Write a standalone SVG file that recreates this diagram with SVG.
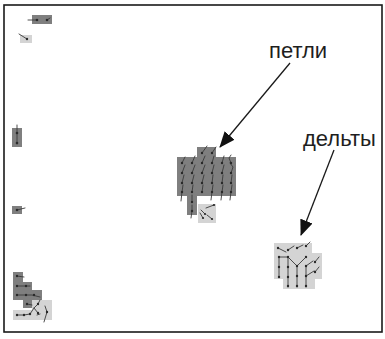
<svg xmlns="http://www.w3.org/2000/svg" width="385" height="339" viewBox="0 0 385 339">
  <defs>
    <style>
      .dk { fill: #7f7f7f; }
      .lt { fill: #d4d4d4; }
      .dot { fill: #2a2a2a; }
      .fl { stroke: #3a3a3a; stroke-width: 0.9; fill: none; stroke-linecap: round; }
      .lbl { font-family: "Liberation Sans", Arial, sans-serif; font-size: 22px; fill: #1e1e1e; }
      .arr { stroke: #1a1a1a; stroke-width: 1.3; fill: none; }
    </style>
    <filter id="soft" x="-20%" y="-20%" width="140%" height="140%">
      <feGaussianBlur stdDeviation="0.6"/>
    </filter>
    <marker id="ah" viewBox="0 0 16 13" refX="15" refY="6.5" markerWidth="16" markerHeight="13" markerUnits="userSpaceOnUse" orient="auto">
      <path d="M0,0 L16,6.5 L0,13 Z" fill="#111"/>
    </marker>
  </defs>

  <rect x="0" y="0" width="385" height="339" fill="#ffffff"/>
  <rect x="4" y="5" width="378" height="327" fill="#ffffff" stroke="#1a1a1a" stroke-width="1.6"/>

  <g id="left-top-dark" filter="url(#soft)">
    <rect class="dk" x="32" y="15" width="20" height="9"/>
    <path class="fl" d="M28,20 L37,20 M47,20 L50,18"/>
    <circle class="dot" cx="37" cy="20" r="1.3"/>
    <circle class="dot" cx="47" cy="20" r="1.3"/>
  </g>

  <g id="left-top-light" filter="url(#soft)">
    <rect class="lt" x="20" y="35" width="12" height="8"/>
    <path class="fl" d="M19,34 L27,39"/>
    <circle class="dot" cx="27" cy="39" r="1.2"/>
  </g>

  <g id="left-mid-dark" filter="url(#soft)">
    <rect class="dk" x="12" y="128" width="10" height="19"/>
    <path class="fl" d="M17,125 L17,144"/>
    <circle class="dot" cx="17" cy="133" r="1.3"/>
    <circle class="dot" cx="17" cy="143" r="1.3"/>
  </g>

  <g id="left-low-dark" filter="url(#soft)">
    <rect class="dk" x="12" y="206" width="10" height="8"/>
    <path class="fl" d="M17,210 L25,208"/>
    <circle class="dot" cx="17" cy="210" r="1.3"/>
  </g>

  <g id="left-bottom" filter="url(#soft)">
    <path class="dk" d="M13,272 H23 V282 H32 V290 H42 V300 H33 V308 H23 V300 H13 Z"/>
    <path class="lt" d="M32,300 H52 V320 H13 V310 H32 Z"/>
    <path class="fl" d="M17,276 L24,277 M17,286 L24,286 L30,286 M17,295 L24,295 L32,295 L40,297 M27,304 L32,305 M17,315 L24,315 L30,314 L34,308 L38,304 M38,304 L40,300 M34,308 L38,313 M45,306 L47,312 M47,312 L44,322 M37,315 L40,314"/>
    <circle class="dot" cx="17" cy="276" r="1.2"/>
    <circle class="dot" cx="17" cy="286" r="1.2"/>
    <circle class="dot" cx="26" cy="286" r="1.2"/>
    <circle class="dot" cx="17" cy="295" r="1.2"/>
    <circle class="dot" cx="26" cy="295" r="1.2"/>
    <circle class="dot" cx="34" cy="295" r="1.2"/>
    <circle class="dot" cx="27" cy="304" r="1.2"/>
    <circle class="dot" cx="17" cy="315" r="1.2"/>
    <circle class="dot" cx="24" cy="315" r="1.2"/>
    <circle class="dot" cx="30" cy="314" r="1.2"/>
    <circle class="dot" cx="38" cy="304" r="1.2"/>
    <circle class="dot" cx="38" cy="313" r="1.2"/>
    <circle class="dot" cx="47" cy="312" r="1.2"/>
  </g>

  <g id="loops" filter="url(#soft)">
    <path class="dk" d="M197,147 H216 V157 H236 V196 H197 V215 H187 V196 H177 V157 H197 Z"/>
    <rect class="lt" x="198" y="204" width="18" height="19"/>
    <path class="fl" d="M202,153 L207,146 M212,153 L216,147
      M182,163 L185,157 M192,163 L195,156 M202,163 L205,156 M212,163 L214,156 M222,163 L224,156 M231,163 L229,158 L231,155
      M182,173 L185,165 M192,173 L195,165 M202,173 L205,165 M212,173 L214,165 M222,173 L224,165 M231,173 L233,167 L230,163
      M182,183 L184,175 M192,183 L194,175 M202,183 L204,175 M212,183 L213,175 M222,183 L223,175 M231,183 L232,175
      M182,192 L183,185 M192,192 L193,185 M202,192 L203,185 M212,192 L213,185 M222,192 L223,185 M231,192 L232,185
      M182,192 L181,201 M212,192 L211,200 M222,192 L221,200 M231,192 L230,200
      M192,202 L192,195 M192,211 L192,205 M192,211 L191,218
      M201,210 L205,214 M206,208 L214,205 M203,218 L200,213 M212,219 L207,215"/>
    <circle class="dot" cx="202" cy="153" r="1.2"/>
    <circle class="dot" cx="212" cy="153" r="1.2"/>
    <circle class="dot" cx="182" cy="163" r="1.2"/>
    <circle class="dot" cx="192" cy="163" r="1.2"/>
    <circle class="dot" cx="202" cy="163" r="1.2"/>
    <circle class="dot" cx="212" cy="163" r="1.2"/>
    <circle class="dot" cx="222" cy="163" r="1.2"/>
    <circle class="dot" cx="231" cy="163" r="1.2"/>
    <circle class="dot" cx="182" cy="173" r="1.2"/>
    <circle class="dot" cx="192" cy="173" r="1.2"/>
    <circle class="dot" cx="202" cy="173" r="1.2"/>
    <circle class="dot" cx="212" cy="173" r="1.2"/>
    <circle class="dot" cx="222" cy="173" r="1.2"/>
    <circle class="dot" cx="231" cy="173" r="1.2"/>
    <circle class="dot" cx="182" cy="183" r="1.2"/>
    <circle class="dot" cx="192" cy="183" r="1.2"/>
    <circle class="dot" cx="202" cy="183" r="1.2"/>
    <circle class="dot" cx="212" cy="183" r="1.2"/>
    <circle class="dot" cx="222" cy="183" r="1.2"/>
    <circle class="dot" cx="231" cy="183" r="1.2"/>
    <circle class="dot" cx="182" cy="192" r="1.2"/>
    <circle class="dot" cx="192" cy="192" r="1.2"/>
    <circle class="dot" cx="202" cy="192" r="1.2"/>
    <circle class="dot" cx="212" cy="192" r="1.2"/>
    <circle class="dot" cx="222" cy="192" r="1.2"/>
    <circle class="dot" cx="231" cy="192" r="1.2"/>
    <circle class="dot" cx="192" cy="202" r="1.2"/>
    <circle class="dot" cx="192" cy="211" r="1.2"/>
    <circle class="dot" cx="205" cy="214" r="1.1"/>
    <circle class="dot" cx="214" cy="205" r="1.1"/>
    <circle class="dot" cx="203" cy="218" r="1.1"/>
    <circle class="dot" cx="212" cy="219" r="1.1"/>
  </g>

  <g id="deltas" filter="url(#soft)">
    <path class="lt" d="M274,243 H312 V253 H322 V279 H315 V289 H283 V279 H274 Z"/>
    <path class="fl" d="M278,248 L286,252 M288,250 L294,246 M297,248 L303,245 M306,246 L310,242
      M279,257 L279,277 M279,257 L288,257 M288,257 L288,287 M288,257 L297,266 M297,266 L297,287 M297,266 L306,257
      M306,266 L306,287 M306,266 L313,261 M306,276 L314,271 M315,262 L319,257 M315,272 L319,267"/>
    <circle class="dot" cx="278" cy="248" r="1.2"/>
    <circle class="dot" cx="288" cy="250" r="1.2"/>
    <circle class="dot" cx="297" cy="248" r="1.2"/>
    <circle class="dot" cx="306" cy="246" r="1.2"/>
    <circle class="dot" cx="279" cy="257" r="1.2"/>
    <circle class="dot" cx="279" cy="267" r="1.2"/>
    <circle class="dot" cx="279" cy="277" r="1.2"/>
    <circle class="dot" cx="288" cy="257" r="1.2"/>
    <circle class="dot" cx="288" cy="267" r="1.2"/>
    <circle class="dot" cx="288" cy="277" r="1.2"/>
    <circle class="dot" cx="288" cy="286" r="1.2"/>
    <circle class="dot" cx="297" cy="266" r="1.2"/>
    <circle class="dot" cx="297" cy="276" r="1.2"/>
    <circle class="dot" cx="297" cy="286" r="1.2"/>
    <circle class="dot" cx="306" cy="257" r="1.2"/>
    <circle class="dot" cx="306" cy="266" r="1.2"/>
    <circle class="dot" cx="306" cy="276" r="1.2"/>
    <circle class="dot" cx="306" cy="286" r="1.2"/>
    <circle class="dot" cx="315" cy="262" r="1.2"/>
    <circle class="dot" cx="315" cy="272" r="1.2"/>
  </g>

  <g id="label-loops">
    <text class="lbl" x="269" y="58">петли</text>
  </g>
  <g id="label-deltas">
    <text class="lbl" x="303" y="146">дельты</text>
  </g>

  <g id="connectors">
    <line class="arr" x1="290" y1="63" x2="220" y2="147" marker-end="url(#ah)"/>
    <line class="arr" x1="334" y1="150" x2="301" y2="235" marker-end="url(#ah)"/>
  </g>
</svg>
